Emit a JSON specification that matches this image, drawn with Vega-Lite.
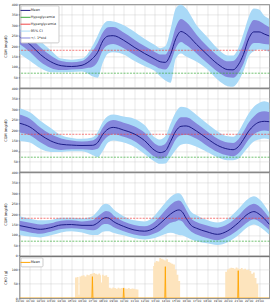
{
  "$schema": "https://vega.github.io/schema/vega-lite/v6.json",
  "padding": {"left": 2.5, "top": 1.4, "right": 1, "bottom": 1},
  "spacing": 0,
  "bounds": "flush",
  "config": {
    "font": "DejaVu Sans",
    "view": {"stroke": "#555", "strokeWidth": 0.8},
    "axis": {"labelFontSize": 3.2, "titleFontSize": 3.6, "titleFontWeight": "normal", "labelColor": "#222", "titleColor": "#222", "tickSize": 1.5, "tickWidth": 0.5, "tickColor": "#444", "domain": false, "gridColor": "#c4c4c4", "gridOpacity": 0.8, "gridWidth": 0.5, "labelPadding": 0.6, "labelOverlap": false, "labelFlush": false, "labelBound": false, "tickCount": 50, "zindex": 1},
    "axisY": {"minExtent": 12, "maxExtent": 12, "titlePadding": 0.4},
    "legend": {"title": null, "orient": "top-left", "offset": 1.2, "labelFontSize": 3.4, "labelColor": "#222", "padding": 2, "fillColor": "white", "strokeColor": "#cccccc", "cornerRadius": 1, "symbolType": "M-2,0H2", "symbolSize": 25, "symbolStrokeWidth": 1, "rowPadding": 1.9, "labelOffset": 2.2, "zindex": 2}
  },
  "datasets": {
    "thr": [{"name": "Hypoglycemia", "v": 70}, {"name": "Hyperglycemia", "v": 180}],
    "p1": [
      {"h": 0, "m": 245, "slo": 210, "shi": 282, "clo": 165, "chi": 300},
      {"h": 1, "m": 208, "slo": 172, "shi": 245, "clo": 130, "chi": 265},
      {"h": 2, "m": 160, "slo": 125, "shi": 195, "clo": 95, "chi": 225},
      {"h": 3, "m": 125, "slo": 95, "shi": 155, "clo": 75, "chi": 180},
      {"h": 4, "m": 106, "slo": 85, "shi": 128, "clo": 75, "chi": 140},
      {"h": 5, "m": 102, "slo": 88, "shi": 122, "clo": 76, "chi": 135},
      {"h": 6, "m": 108, "slo": 90, "shi": 128, "clo": 78, "chi": 140},
      {"h": 6.5, "m": 120, "slo": 95, "shi": 145, "clo": 70, "chi": 160},
      {"h": 7, "m": 140, "slo": 100, "shi": 175, "clo": 55, "chi": 200},
      {"h": 7.5, "m": 170, "slo": 125, "shi": 215, "clo": 48, "chi": 250},
      {"h": 8, "m": 225, "slo": 180, "shi": 265, "clo": 120, "chi": 300},
      {"h": 8.5, "m": 248, "slo": 205, "shi": 290, "clo": 165, "chi": 320},
      {"h": 9, "m": 250, "slo": 210, "shi": 292, "clo": 170, "chi": 318},
      {"h": 10, "m": 228, "slo": 190, "shi": 265, "clo": 160, "chi": 300},
      {"h": 11, "m": 195, "slo": 160, "shi": 232, "clo": 130, "chi": 270},
      {"h": 12, "m": 165, "slo": 130, "shi": 200, "clo": 105, "chi": 235},
      {"h": 13, "m": 138, "slo": 105, "shi": 172, "clo": 80, "chi": 205},
      {"h": 13.5, "m": 125, "slo": 92, "shi": 160, "clo": 55, "chi": 190},
      {"h": 14, "m": 122, "slo": 88, "shi": 160, "clo": 35, "chi": 200},
      {"h": 14.5, "m": 160, "slo": 120, "shi": 205, "clo": 24, "chi": 280},
      {"h": 15, "m": 235, "slo": 190, "shi": 290, "clo": 140, "chi": 380},
      {"h": 15.5, "m": 270, "slo": 220, "shi": 330, "clo": 165, "chi": 400},
      {"h": 16, "m": 258, "slo": 205, "shi": 315, "clo": 150, "chi": 380},
      {"h": 17, "m": 208, "slo": 165, "shi": 255, "clo": 125, "chi": 300},
      {"h": 18, "m": 160, "slo": 120, "shi": 200, "clo": 90, "chi": 245},
      {"h": 19, "m": 115, "slo": 78, "shi": 155, "clo": 40, "chi": 190},
      {"h": 20, "m": 87, "slo": 50, "shi": 127, "clo": 8, "chi": 155},
      {"h": 20.5, "m": 86, "slo": 48, "shi": 128, "clo": 5, "chi": 155},
      {"h": 21, "m": 110, "slo": 70, "shi": 155, "clo": 30, "chi": 190},
      {"h": 21.5, "m": 160, "slo": 115, "shi": 210, "clo": 80, "chi": 260},
      {"h": 22, "m": 235, "slo": 185, "shi": 285, "clo": 150, "chi": 340},
      {"h": 22.5, "m": 268, "slo": 215, "shi": 325, "clo": 175, "chi": 380},
      {"h": 23, "m": 268, "slo": 215, "shi": 320, "clo": 185, "chi": 375},
      {"h": 23.5, "m": 258, "slo": 210, "shi": 305, "clo": 180, "chi": 345},
      {"h": 24, "m": 248, "slo": 208, "shi": 290, "clo": 172, "chi": 330}
    ],
    "p2": [
      {"h": 0, "m": 233, "slo": 188, "shi": 275, "clo": 148, "chi": 305},
      {"h": 1, "m": 215, "slo": 175, "shi": 255, "clo": 140, "chi": 285},
      {"h": 2, "m": 178, "slo": 142, "shi": 212, "clo": 110, "chi": 245},
      {"h": 3, "m": 148, "slo": 115, "shi": 180, "clo": 95, "chi": 210},
      {"h": 4, "m": 132, "slo": 105, "shi": 160, "clo": 95, "chi": 175},
      {"h": 5, "m": 128, "slo": 108, "shi": 150, "clo": 98, "chi": 162},
      {"h": 6, "m": 126, "slo": 108, "shi": 145, "clo": 98, "chi": 158},
      {"h": 7, "m": 127, "slo": 105, "shi": 150, "clo": 80, "chi": 165},
      {"h": 7.5, "m": 140, "slo": 110, "shi": 168, "clo": 70, "chi": 190},
      {"h": 8, "m": 180, "slo": 145, "shi": 212, "clo": 100, "chi": 240},
      {"h": 8.5, "m": 205, "slo": 170, "shi": 240, "clo": 140, "chi": 268},
      {"h": 9, "m": 213, "slo": 180, "shi": 248, "clo": 150, "chi": 275},
      {"h": 10, "m": 200, "slo": 168, "shi": 235, "clo": 140, "chi": 265},
      {"h": 11, "m": 182, "slo": 148, "shi": 218, "clo": 120, "chi": 255},
      {"h": 12, "m": 150, "slo": 112, "shi": 188, "clo": 85, "chi": 225},
      {"h": 13, "m": 102, "slo": 72, "shi": 135, "clo": 48, "chi": 165},
      {"h": 13.5, "m": 92, "slo": 62, "shi": 125, "clo": 38, "chi": 155},
      {"h": 14, "m": 100, "slo": 68, "shi": 135, "clo": 40, "chi": 170},
      {"h": 14.5, "m": 145, "slo": 108, "shi": 182, "clo": 70, "chi": 230},
      {"h": 15, "m": 195, "slo": 155, "shi": 235, "clo": 105, "chi": 285},
      {"h": 15.5, "m": 218, "slo": 175, "shi": 262, "clo": 130, "chi": 312},
      {"h": 16, "m": 220, "slo": 178, "shi": 262, "clo": 135, "chi": 308},
      {"h": 17, "m": 195, "slo": 158, "shi": 232, "clo": 120, "chi": 272},
      {"h": 18, "m": 160, "slo": 125, "shi": 195, "clo": 95, "chi": 232},
      {"h": 19, "m": 127, "slo": 95, "shi": 160, "clo": 70, "chi": 195},
      {"h": 20, "m": 109, "slo": 78, "shi": 140, "clo": 55, "chi": 170},
      {"h": 20.5, "m": 106, "slo": 75, "shi": 138, "clo": 55, "chi": 168},
      {"h": 21, "m": 120, "slo": 88, "shi": 155, "clo": 62, "chi": 190},
      {"h": 21.5, "m": 155, "slo": 118, "shi": 192, "clo": 90, "chi": 235},
      {"h": 22, "m": 195, "slo": 155, "shi": 235, "clo": 120, "chi": 280},
      {"h": 22.5, "m": 222, "slo": 180, "shi": 265, "clo": 145, "chi": 312},
      {"h": 23, "m": 238, "slo": 193, "shi": 285, "clo": 155, "chi": 330},
      {"h": 23.5, "m": 242, "slo": 198, "shi": 290, "clo": 160, "chi": 338},
      {"h": 24, "m": 240, "slo": 195, "shi": 285, "clo": 155, "chi": 330}
    ],
    "p3": [
      {"h": 0, "m": 145, "slo": 122, "shi": 168, "clo": 100, "chi": 190},
      {"h": 1, "m": 135, "slo": 112, "shi": 158, "clo": 92, "chi": 178},
      {"h": 2, "m": 127, "slo": 106, "shi": 150, "clo": 88, "chi": 170},
      {"h": 3, "m": 135, "slo": 115, "shi": 156, "clo": 98, "chi": 172},
      {"h": 4, "m": 148, "slo": 128, "shi": 168, "clo": 112, "chi": 182},
      {"h": 5, "m": 150, "slo": 132, "shi": 170, "clo": 118, "chi": 182},
      {"h": 6, "m": 146, "slo": 128, "shi": 165, "clo": 112, "chi": 180},
      {"h": 7, "m": 146, "slo": 122, "shi": 170, "clo": 100, "chi": 190},
      {"h": 7.5, "m": 158, "slo": 130, "shi": 188, "clo": 100, "chi": 215},
      {"h": 8, "m": 178, "slo": 150, "shi": 208, "clo": 115, "chi": 245},
      {"h": 8.3, "m": 183, "slo": 152, "shi": 215, "clo": 118, "chi": 250},
      {"h": 8.6, "m": 180, "slo": 150, "shi": 212, "clo": 118, "chi": 245},
      {"h": 9, "m": 165, "slo": 138, "shi": 195, "clo": 110, "chi": 225},
      {"h": 10, "m": 141, "slo": 118, "shi": 165, "clo": 98, "chi": 190},
      {"h": 11, "m": 124, "slo": 102, "shi": 148, "clo": 85, "chi": 170},
      {"h": 12, "m": 118, "slo": 95, "shi": 142, "clo": 78, "chi": 165},
      {"h": 13, "m": 135, "slo": 108, "shi": 165, "clo": 85, "chi": 195},
      {"h": 13.5, "m": 155, "slo": 120, "shi": 190, "clo": 95, "chi": 225},
      {"h": 14, "m": 178, "slo": 140, "shi": 218, "clo": 105, "chi": 255},
      {"h": 14.5, "m": 200, "slo": 158, "shi": 245, "clo": 110, "chi": 282},
      {"h": 15, "m": 216, "slo": 165, "shi": 262, "clo": 105, "chi": 298},
      {"h": 15.3, "m": 220, "slo": 170, "shi": 265, "clo": 100, "chi": 300},
      {"h": 15.6, "m": 212, "slo": 166, "shi": 255, "clo": 98, "chi": 288},
      {"h": 16, "m": 180, "slo": 140, "shi": 220, "clo": 90, "chi": 250},
      {"h": 16.5, "m": 145, "slo": 115, "shi": 178, "clo": 78, "chi": 210},
      {"h": 17, "m": 132, "slo": 102, "shi": 162, "clo": 70, "chi": 195},
      {"h": 18, "m": 115, "slo": 85, "shi": 145, "clo": 60, "chi": 172},
      {"h": 19, "m": 103, "slo": 75, "shi": 135, "clo": 52, "chi": 160},
      {"h": 20, "m": 120, "slo": 92, "shi": 152, "clo": 65, "chi": 178},
      {"h": 21, "m": 158, "slo": 125, "shi": 192, "clo": 98, "chi": 225},
      {"h": 22, "m": 203, "slo": 165, "shi": 240, "clo": 140, "chi": 275},
      {"h": 22.5, "m": 212, "slo": 175, "shi": 250, "clo": 150, "chi": 285},
      {"h": 23, "m": 200, "slo": 165, "shi": 238, "clo": 140, "chi": 272},
      {"h": 24, "m": 150, "slo": 122, "shi": 180, "clo": 100, "chi": 205}
    ],
    "cho": [
      {"h": 0, "v": 0}, {"h": 5.33, "v": 72}, {"h": 5.5, "v": 74}, {"h": 5.67, "v": 12}, {"h": 5.75, "v": 76}, {"h": 5.92, "v": 78}, {"h": 6.08, "v": 80}, {"h": 6.25, "v": 76}, {"h": 6.42, "v": 82}, {"h": 6.58, "v": 80}, {"h": 6.75, "v": 84}, {"h": 6.92, "v": 86}, {"h": 7.08, "v": 88}, {"h": 7.25, "v": 85}, {"h": 7.42, "v": 83}, {"h": 7.58, "v": 86}, {"h": 7.75, "v": 80}, {"h": 7.83, "v": 55}, {"h": 7.92, "v": 82}, {"h": 8.08, "v": 78}, {"h": 8.25, "v": 80}, {"h": 8.42, "v": 74},
      {"h": 8.58, "v": 36}, {"h": 8.75, "v": 34}, {"h": 8.92, "v": 37}, {"h": 9.08, "v": 35}, {"h": 9.25, "v": 33}, {"h": 9.42, "v": 36}, {"h": 9.58, "v": 34}, {"h": 9.75, "v": 35}, {"h": 9.92, "v": 37}, {"h": 10.08, "v": 34}, {"h": 10.25, "v": 33}, {"h": 10.42, "v": 35}, {"h": 10.58, "v": 32}, {"h": 10.75, "v": 34}, {"h": 10.92, "v": 33}, {"h": 11.08, "v": 31}, {"h": 11.25, "v": 30}, {"h": 11.42, "v": 0},
      {"h": 12.83, "v": 112}, {"h": 12.92, "v": 125}, {"h": 13.08, "v": 130}, {"h": 13.25, "v": 128}, {"h": 13.42, "v": 140}, {"h": 13.58, "v": 138}, {"h": 13.75, "v": 135}, {"h": 13.92, "v": 132}, {"h": 14.08, "v": 136}, {"h": 14.25, "v": 126}, {"h": 14.42, "v": 124}, {"h": 14.58, "v": 120}, {"h": 14.75, "v": 118}, {"h": 14.92, "v": 100}, {"h": 15.08, "v": 82}, {"h": 15.25, "v": 60}, {"h": 15.42, "v": 0},
      {"h": 19.75, "v": 92}, {"h": 19.92, "v": 100}, {"h": 20.08, "v": 104}, {"h": 20.25, "v": 106}, {"h": 20.42, "v": 105}, {"h": 20.58, "v": 103}, {"h": 20.75, "v": 107}, {"h": 20.92, "v": 104}, {"h": 21.08, "v": 102}, {"h": 21.25, "v": 105}, {"h": 21.42, "v": 100}, {"h": 21.58, "v": 103}, {"h": 21.75, "v": 98}, {"h": 21.92, "v": 100}, {"h": 22.08, "v": 95}, {"h": 22.25, "v": 85}, {"h": 22.42, "v": 90}, {"h": 22.58, "v": 70}, {"h": 22.75, "v": 50}, {"h": 22.92, "v": 0}, {"h": 24, "v": 0}
    ],
    "chomean": [
      {"h": 0, "v": 0}, {"h": 6.95, "v": 0}, {"h": 7, "v": 75}, {"h": 7.05, "v": 0},
      {"h": 9.95, "v": 0}, {"h": 10, "v": 35}, {"h": 10.05, "v": 0},
      {"h": 13.95, "v": 0}, {"h": 14, "v": 110}, {"h": 14.05, "v": 0},
      {"h": 20.95, "v": 0}, {"h": 21, "v": 96}, {"h": 21.05, "v": 0}, {"h": 24, "v": 0}
    ]
  },
  "resolve": {"scale": {"color": "independent", "y": "independent", "x": "independent"}, "legend": {"color": "independent"}},
  "vconcat": [
    {
      "width": 250, "height": 83.4,
      "data": {"name": "p1"},
      "layer": [
        {"mark": {"type": "area", "interpolate": "monotone", "opacity": 1, "clip": true},
         "encoding": {
           "x": {"field": "h", "type": "quantitative", "scale": {"domain": [0, 24], "nice": false, "zero": false}, "axis": {"values": [0,1,2,3,4,5,6,7,8,9,10,11,12,13,14,15,16,17,18,19,20,21,22,23], "tickCount": 50, "labels": false, "ticks": false, "title": null, "grid": true}},
           "y": {"field": "clo", "type": "quantitative", "scale": {"domain": [0, 400], "nice": false, "zero": false}, "axis": {"values": [50,100,150,200,250,300,350,400], "tickCount": 50, "title": "CGM (mg/dl)", "grid": true, "minExtent": 12, "maxExtent": 12, "titlePadding": 0.4}},
           "y2": {"field": "chi"},
           "color": {"datum": "95% CI", "type": "nominal",
             "scale": {"domain": ["Mean", "Hypoglycemia", "Hyperglycemia", "95% CI", "+/- 1*std"], "range": ["#1c1c86", "#3aaa3a", "#f04444", "#a9d9f7", "#8587dc"]},
             "legend": {"encode": {"symbols": {"update": {
               "shape": {"signal": "datum.value == '95% CI' || datum.value == '+/- 1*std' ? 'M-2,-0.55H2V0.55H-2Z' : 'M-2,0H2'"},
               "fill": {"signal": "datum.value == '95% CI' ? '#a9d9f7' : datum.value == '+/- 1*std' ? '#8587dc' : 'transparent'"},
               "stroke": {"signal": "datum.value == 'Mean' ? '#1c1c86' : datum.value == 'Hypoglycemia' ? '#3aaa3a' : datum.value == 'Hyperglycemia' ? '#f04444' : 'transparent'"},
               "strokeDash": {"signal": "datum.value == 'Hypoglycemia' || datum.value == 'Hyperglycemia' ? [1.5, 0.8] : [1, 0]"},
               "strokeWidth": {"signal": "datum.value == 'Mean' ? 1.2 : 0.8"},
               "opacity": {"value": 1}
             }}}}}
         }},
        {"mark": {"type": "area", "interpolate": "monotone", "opacity": 1, "clip": true},
         "encoding": {"x": {"field": "h", "type": "quantitative"}, "y": {"field": "slo", "type": "quantitative"}, "y2": {"field": "shi"}, "color": {"datum": "+/- 1*std", "type": "nominal"}}},
        {"data": {"name": "thr"}, "mark": {"type": "rule", "strokeDash": [2, 1.2], "strokeWidth": 0.7},
         "encoding": {"y": {"field": "v", "type": "quantitative"}, "color": {"field": "name", "type": "nominal"}}},
        {"mark": {"type": "line", "interpolate": "monotone", "strokeWidth": 1, "clip": true},
         "encoding": {"x": {"field": "h", "type": "quantitative"}, "y": {"field": "m", "type": "quantitative"}, "color": {"datum": "Mean", "type": "nominal"}}}
      ]
    },
    {
      "width": 250, "height": 83.4,
      "data": {"name": "p2"},
      "layer": [
        {"mark": {"type": "area", "interpolate": "monotone", "opacity": 1, "clip": true},
         "encoding": {
           "x": {"field": "h", "type": "quantitative", "scale": {"domain": [0, 24], "nice": false, "zero": false}, "axis": {"values": [0,1,2,3,4,5,6,7,8,9,10,11,12,13,14,15,16,17,18,19,20,21,22,23], "tickCount": 50, "labels": false, "ticks": false, "title": null, "grid": true}},
           "y": {"field": "clo", "type": "quantitative", "scale": {"domain": [0, 400], "nice": false, "zero": false}, "axis": {"values": [50,100,150,200,250,300,350,400], "tickCount": 50, "title": "CGM (mg/dl)", "grid": true, "minExtent": 12, "maxExtent": 12, "titlePadding": 0.4}},
           "y2": {"field": "chi"},
           "color": {"datum": "95% CI", "type": "nominal", "legend": null,
             "scale": {"domain": ["Mean", "Hypoglycemia", "Hyperglycemia", "95% CI", "+/- 1*std"], "range": ["#1c1c86", "#3aaa3a", "#f04444", "#a9d9f7", "#8587dc"]}}
         }},
        {"mark": {"type": "area", "interpolate": "monotone", "opacity": 1, "clip": true},
         "encoding": {"x": {"field": "h", "type": "quantitative"}, "y": {"field": "slo", "type": "quantitative"}, "y2": {"field": "shi"}, "color": {"datum": "+/- 1*std", "type": "nominal", "legend": null}}},
        {"data": {"name": "thr"}, "mark": {"type": "rule", "strokeDash": [2, 1.2], "strokeWidth": 0.7},
         "encoding": {"y": {"field": "v", "type": "quantitative"}, "color": {"field": "name", "type": "nominal", "legend": null}}},
        {"mark": {"type": "line", "interpolate": "monotone", "strokeWidth": 1, "clip": true},
         "encoding": {"x": {"field": "h", "type": "quantitative"}, "y": {"field": "m", "type": "quantitative"}, "color": {"datum": "Mean", "type": "nominal", "legend": null}}}
      ]
    },
    {
      "width": 250, "height": 83.4,
      "data": {"name": "p3"},
      "layer": [
        {"mark": {"type": "area", "interpolate": "monotone", "opacity": 1, "clip": true},
         "encoding": {
           "x": {"field": "h", "type": "quantitative", "scale": {"domain": [0, 24], "nice": false, "zero": false}, "axis": {"values": [0,1,2,3,4,5,6,7,8,9,10,11,12,13,14,15,16,17,18,19,20,21,22,23], "tickCount": 50, "labels": false, "ticks": false, "title": null, "grid": true}},
           "y": {"field": "clo", "type": "quantitative", "scale": {"domain": [0, 400], "nice": false, "zero": false}, "axis": {"values": [0,50,100,150,200,250,300,350,400], "tickCount": 50, "title": "CGM (mg/dl)", "grid": true, "minExtent": 12, "maxExtent": 12, "titlePadding": 0.4}},
           "y2": {"field": "chi"},
           "color": {"datum": "95% CI", "type": "nominal", "legend": null,
             "scale": {"domain": ["Mean", "Hypoglycemia", "Hyperglycemia", "95% CI", "+/- 1*std"], "range": ["#1c1c86", "#3aaa3a", "#f04444", "#a9d9f7", "#8587dc"]}}
         }},
        {"mark": {"type": "area", "interpolate": "monotone", "opacity": 1, "clip": true},
         "encoding": {"x": {"field": "h", "type": "quantitative"}, "y": {"field": "slo", "type": "quantitative"}, "y2": {"field": "shi"}, "color": {"datum": "+/- 1*std", "type": "nominal", "legend": null}}},
        {"data": {"name": "thr"}, "mark": {"type": "rule", "strokeDash": [2, 1.2], "strokeWidth": 0.7},
         "encoding": {"y": {"field": "v", "type": "quantitative"}, "color": {"field": "name", "type": "nominal", "legend": null}}},
        {"mark": {"type": "line", "interpolate": "monotone", "strokeWidth": 1, "clip": true},
         "encoding": {"x": {"field": "h", "type": "quantitative"}, "y": {"field": "m", "type": "quantitative"}, "color": {"datum": "Mean", "type": "nominal", "legend": null}}}
      ]
    },
    {
      "width": 250, "height": 41.7,
      "layer": [
        {"data": {"name": "cho"}, "mark": {"type": "area", "interpolate": "step-after", "color": "#fde4bd", "opacity": 1, "clip": true},
         "encoding": {
           "x": {"field": "h", "type": "quantitative", "scale": {"domain": [0, 24], "nice": false, "zero": false}, "axis": {"values": [0,1,2,3,4,5,6,7,8,9,10,11,12,13,14,15,16,17,18,19,20,21,22,23], "tickCount": 50, "labelExpr": "(datum.value < 10 ? '0' : '') + datum.value + ':00'", "labelFontSize": 2.9, "labelAngle": 0, "title": null, "grid": true, "tickSize": 1.2}},
           "y": {"field": "v", "type": "quantitative", "scale": {"domain": [0, 146], "nice": false}, "axis": {"values": [0, 50, 100], "tickCount": 50, "title": "CHO (g)", "grid": true, "minExtent": 12, "maxExtent": 12, "titlePadding": 0.4}}}},
        {"data": {"name": "chomean"}, "mark": {"type": "line", "strokeWidth": 0.9, "clip": true},
         "encoding": {"x": {"field": "h", "type": "quantitative"}, "y": {"field": "v", "type": "quantitative"},
           "color": {"datum": "Mean", "type": "nominal", "scale": {"domain": ["Mean"], "range": ["#ffa500"]},
             "legend": {"encode": {"symbols": {"update": {"shape": {"value": "M-2,0H2"}, "stroke": {"value": "#ffa500"}, "strokeWidth": {"value": 1}, "opacity": {"value": 1}}}}}}}}
      ]
    }
  ]
}
